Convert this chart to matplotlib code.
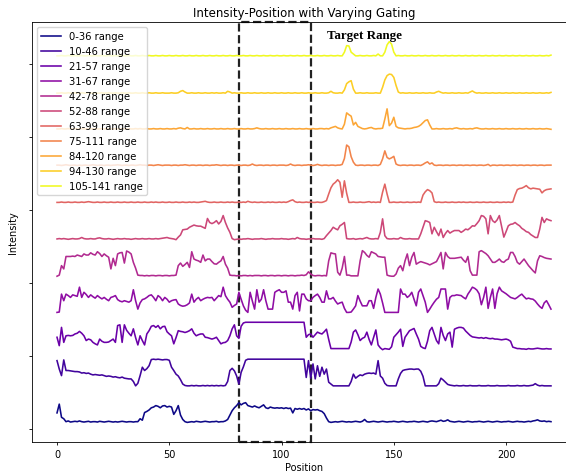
import numpy as np
import matplotlib.pyplot as plt

positions = np.arange(221)

labels = ['0-36 range', '10-46 range', '21-57 range', '31-67 range', '42-78 range',
          '52-88 range', '63-99 range', '75-111 range', '84-120 range',
          '94-130 range', '105-141 range']

# intensity of each trace (x100), before stacking
range_0_36 = [
    44, 68, 32, 28, 20, 22, 19, 20, 21, 20,
    22, 20, 19, 20, 21, 19, 20, 20, 19, 21,
    20, 19, 20, 21, 20, 19, 20, 19, 20, 21,
    20, 19, 20, 20, 19, 20, 20, 28, 24, 45,
    48, 52, 58, 60, 64, 62, 58, 63, 64, 60,
    62, 60, 40, 50, 64, 38, 26, 20, 18, 19,
    20, 19, 21, 20, 19, 20, 21, 20, 19, 20,
    20, 21, 19, 20, 20, 22, 26, 38, 50, 58,
    64, 72, 66, 70, 72, 64, 62, 60, 63, 60,
    58, 62, 66, 58, 56, 60, 58, 57, 58, 57,
    58, 56, 58, 56, 57, 44, 56, 54, 56, 54,
    56, 52, 55, 50, 53, 52, 53, 50, 48, 42,
    30, 20, 18, 19, 20, 19, 20, 21, 20, 19,
    20, 19, 20, 21, 20, 19, 21, 26, 20, 19,
    20, 21, 20, 19, 20, 21, 20, 19, 20, 20,
    21, 20, 19, 20, 21, 20, 19, 20, 20, 21,
    20, 19, 20, 21, 20, 19, 21, 22, 21, 20,
    22, 24, 21, 22, 25, 21, 20, 19, 20, 21,
    20, 19, 20, 21, 20, 19, 20, 20, 21, 20,
    19, 20, 21, 20, 19, 20, 21, 20, 19, 20,
    20, 21, 20, 19, 20, 21, 20, 20, 19, 20,
    21, 20, 22, 23, 25, 22, 21, 22, 20, 21,
    20]

range_10_46 = [
    87, 64, 46, 89, 60, 60, 59, 58, 57, 57,
    56, 53, 54, 52, 53, 50, 48, 49, 48, 47,
    48, 46, 44, 45, 44, 42, 43, 41, 40, 42,
    39, 38, 37, 37, 30, 18, 25, 46, 69, 60,
    65, 73, 90, 91, 90, 91, 90, 89, 90, 90,
    88, 69, 60, 50, 45, 35, 23, 19, 18, 18,
    19, 18, 19, 18, 18, 19, 18, 19, 18, 19,
    18, 19, 18, 19, 18, 19, 30, 60, 66, 59,
    45, 23, 55, 70, 88, 91, 91, 91, 91, 91,
    91, 91, 91, 91, 91, 91, 91, 91, 91, 91,
    91, 91, 91, 91, 91, 91, 91, 91, 91, 91,
    91, 41, 87, 39, 78, 37, 73, 44, 69, 50,
    64, 28, 23, 18, 18, 18, 18, 18, 18, 18,
    18, 30, 50, 39, 44, 48, 46, 50, 52, 53,
    52, 53, 50, 87, 45, 39, 25, 19, 18, 18,
    18, 18, 37, 52, 60, 62, 63, 64, 64, 63,
    64, 64, 58, 44, 18, 18, 18, 18, 18, 18,
    24, 39, 34, 28, 22, 20, 19, 18, 19, 18,
    18, 19, 18, 18, 19, 18, 18, 18, 19, 18,
    18, 18, 19, 18, 18, 18, 19, 18, 18, 18,
    18, 19, 18, 18, 18, 19, 18, 18, 19, 18,
    18, 19, 20, 24, 20, 18, 19, 18, 18, 18,
    18]

range_21_57 = [
    51, 28, 78, 37, 55, 56, 55, 56, 60, 62,
    67, 62, 55, 42, 46, 44, 37, 33, 30, 46,
    40, 37, 37, 38, 42, 46, 37, 83, 85, 37,
    85, 70, 62, 55, 74, 50, 30, 55, 42, 30,
    60, 69, 81, 83, 78, 83, 74, 80, 81, 66,
    60, 55, 33, 50, 69, 67, 66, 64, 66, 69,
    74, 62, 55, 58, 60, 60, 51, 50, 48, 46,
    48, 51, 42, 33, 36, 37, 42, 55, 74, 85,
    55, 48, 81, 90, 92, 92, 92, 92, 92, 92,
    92, 92, 92, 92, 92, 92, 92, 92, 92, 92,
    92, 92, 92, 92, 92, 92, 92, 92, 92, 92,
    92, 51, 58, 60, 51, 58, 65, 62, 60, 66,
    73, 45, 20, 20, 20, 20, 20, 20, 20, 20,
    20, 38, 65, 71, 58, 42, 48, 51, 65, 45,
    30, 51, 71, 30, 22, 17, 20, 19, 18, 25,
    51, 58, 65, 73, 26, 51, 60, 69, 72, 75,
    60, 46, 26, 22, 20, 40, 69, 78, 60, 42,
    33, 78, 56, 42, 60, 65, 24, 73, 76, 78,
    78, 76, 68, 62, 56, 52, 51, 50, 49, 50,
    48, 50, 48, 47, 48, 46, 46, 45, 44, 45,
    46, 44, 40, 24, 22, 20, 20, 19, 19, 18,
    20, 19, 19, 20, 21, 20, 19, 19, 20, 19,
    19]

range_31_67 = [
    19, 20, 69, 51, 69, 65, 60, 67, 65, 63,
    88, 60, 74, 68, 60, 67, 62, 58, 65, 60,
    56, 60, 55, 51, 60, 62, 65, 54, 50, 48,
    51, 49, 47, 51, 81, 51, 28, 45, 54, 56,
    60, 65, 67, 60, 51, 65, 60, 51, 60, 55,
    47, 51, 53, 54, 42, 38, 36, 37, 40, 45,
    69, 47, 55, 60, 51, 55, 58, 60, 59, 60,
    51, 58, 65, 62, 88, 65, 55, 47, 33, 38,
    42, 74, 55, 37, 25, 19, 74, 50, 28, 81,
    47, 55, 81, 51, 28, 28, 28, 74, 78, 81,
    74, 74, 78, 47, 47, 28, 65, 74, 23, 69,
    69, 56, 51, 51, 60, 65, 69, 60, 47, 47,
    78, 56, 56, 60, 50, 42, 45, 47, 30, 19,
    19, 20, 28, 37, 65, 50, 37, 37, 37, 51,
    51, 30, 60, 83, 69, 45, 19, 19, 19, 19,
    19, 19, 19, 83, 69, 69, 60, 65, 74, 55,
    37, 74, 83, 65, 47, 19, 28, 38, 47, 55,
    60, 83, 83, 83, 28, 60, 65, 65, 67, 66,
    65, 60, 56, 69, 78, 88, 85, 80, 70, 40,
    60, 88, 30, 60, 83, 30, 70, 88, 78, 74,
    70, 65, 60, 58, 56, 60, 65, 69, 62, 56,
    58, 56, 55, 50, 42, 35, 30, 45, 51, 40,
    28]

range_42_78 = [
    18, 21, 47, 38, 72, 72, 72, 73, 72, 76,
    74, 72, 79, 76, 76, 82, 78, 76, 85, 80,
    72, 79, 74, 70, 38, 67, 47, 79, 82, 83,
    54, 87, 84, 79, 56, 40, 21, 20, 20, 19,
    20, 19, 20, 20, 19, 20, 20, 19, 20, 20,
    19, 20, 20, 21, 47, 54, 45, 50, 56, 42,
    85, 65, 62, 60, 56, 76, 60, 65, 65, 58,
    52, 51, 56, 60, 72, 51, 40, 21, 20, 20,
    19, 20, 19, 20, 20, 19, 20, 19, 20, 20,
    20, 19, 20, 20, 19, 20, 20, 19, 20, 20,
    19, 20, 20, 19, 20, 20, 19, 20, 20, 21,
    20, 22, 30, 24, 20, 19, 20, 20, 19, 20,
    19, 60, 82, 80, 79, 29, 21, 40, 72, 21,
    21, 19, 19, 19, 19, 60, 88, 83, 75, 70,
    85, 82, 79, 72, 71, 70, 70, 21, 19, 18,
    18, 24, 40, 47, 33, 60, 79, 47, 70, 83,
    51, 55, 58, 56, 54, 52, 49, 52, 55, 58,
    70, 83, 38, 83, 72, 67, 67, 67, 68, 69,
    70, 62, 56, 72, 33, 21, 21, 21, 85, 88,
    84, 80, 74, 65, 56, 56, 60, 65, 58, 56,
    62, 65, 83, 83, 72, 56, 51, 58, 65, 56,
    47, 40, 33, 27, 60, 74, 72, 69, 67, 66,
    65]

range_52_88 = [
    20, 21, 20, 21, 20, 19, 20, 21, 20, 20,
    21, 24, 21, 20, 20, 21, 20, 20, 22, 23,
    21, 20, 20, 21, 20, 19, 20, 21, 20, 20,
    21, 20, 20, 19, 20, 21, 20, 20, 21, 20,
    20, 21, 20, 20, 21, 20, 21, 22, 23, 24,
    22, 21, 20, 18, 25, 31, 45, 46, 47, 52,
    55, 58, 56, 55, 55, 52, 49, 76, 65, 62,
    65, 70, 61, 68, 84, 65, 50, 38, 21, 18,
    19, 20, 19, 20, 20, 21, 20, 19, 20, 20,
    20, 21, 20, 19, 20, 20, 21, 20, 20, 20,
    21, 20, 20, 19, 20, 21, 20, 24, 21, 20,
    20, 19, 20, 20, 21, 20, 20, 20, 19, 21,
    29, 36, 43, 52, 48, 45, 56, 60, 65, 21,
    20, 20, 21, 19, 20, 21, 20, 22, 24, 21,
    20, 20, 21, 20, 38, 75, 29, 21, 20, 20,
    21, 20, 20, 24, 21, 20, 20, 21, 20, 20,
    20, 20, 34, 52, 70, 68, 65, 34, 52, 40,
    29, 47, 24, 35, 43, 36, 40, 43, 43, 43,
    38, 42, 47, 45, 50, 56, 55, 62, 70, 84,
    82, 75, 34, 84, 70, 65, 72, 84, 55, 25,
    40, 56, 60, 61, 65, 60, 56, 49, 45, 40,
    38, 32, 28, 24, 24, 47, 79, 65, 75, 72,
    70]

range_63_99 = [
    20, 20, 21, 20, 20, 21, 20, 20, 21, 20,
    20, 21, 20, 21, 22, 21, 20, 20, 21, 20,
    20, 21, 20, 20, 21, 20, 20, 21, 20, 20,
    21, 20, 20, 21, 20, 20, 21, 20, 20, 21,
    20, 20, 21, 20, 21, 20, 20, 21, 20, 20,
    21, 20, 20, 21, 20, 20, 21, 20, 20, 21,
    20, 21, 20, 20, 21, 22, 23, 21, 20, 20,
    21, 20, 20, 21, 20, 20, 21, 20, 21, 20,
    20, 21, 20, 21, 20, 23, 21, 20, 21, 20,
    20, 21, 20, 20, 21, 20, 21, 20, 20, 21,
    20, 21, 20, 22, 25, 27, 22, 20, 21, 20,
    20, 21, 20, 21, 20, 20, 21, 20, 20, 22,
    25, 43, 60, 70, 75, 82, 75, 34, 79, 45,
    20, 20, 21, 20, 20, 21, 20, 20, 21, 22,
    20, 21, 20, 21, 20, 48, 70, 43, 20, 20,
    21, 20, 20, 21, 20, 20, 21, 20, 20, 21,
    20, 21, 20, 40, 49, 55, 52, 46, 22, 20,
    21, 20, 20, 21, 20, 20, 21, 20, 20, 21,
    20, 21, 20, 20, 21, 20, 20, 21, 20, 20,
    21, 20, 20, 21, 20, 20, 21, 20, 20, 21,
    20, 21, 20, 21, 40, 55, 58, 59, 62, 66,
    60, 57, 59, 58, 57, 56, 46, 52, 55, 56,
    57]

range_75_111 = [
    22, 22, 21, 22, 23, 22, 21, 22, 22, 21,
    22, 21, 22, 22, 21, 22, 23, 22, 21, 22,
    22, 21, 22, 22, 21, 22, 22, 23, 22, 21,
    22, 22, 21, 22, 22, 21, 22, 23, 22, 22,
    21, 22, 22, 21, 22, 23, 22, 21, 22, 22,
    22, 21, 22, 22, 21, 22, 22, 23, 22, 21,
    22, 22, 21, 22, 22, 21, 22, 22, 21, 22,
    22, 23, 22, 21, 22, 22, 21, 22, 22, 21,
    22, 22, 21, 22, 22, 21, 22, 25, 22, 21,
    22, 22, 21, 22, 22, 21, 22, 22, 21, 22,
    22, 22, 21, 22, 25, 22, 21, 22, 22, 21,
    22, 22, 23, 22, 21, 22, 24, 22, 21, 22,
    22, 21, 22, 22, 21, 22, 22, 24, 40, 77,
    72, 45, 30, 22, 21, 22, 22, 21, 22, 22,
    21, 22, 22, 21, 24, 39, 61, 43, 39, 42,
    46, 25, 22, 21, 22, 22, 21, 22, 22, 21,
    22, 22, 21, 24, 28, 31, 25, 28, 22, 21,
    22, 22, 21, 22, 22, 21, 22, 22, 21, 22,
    22, 21, 22, 22, 21, 22, 22, 21, 22, 22,
    21, 22, 24, 20, 22, 22, 21, 22, 22, 21,
    22, 22, 21, 22, 22, 21, 22, 22, 21, 22,
    22, 21, 22, 22, 21, 22, 22, 21, 22, 22,
    22]

range_84_120 = [
    21, 21, 22, 21, 21, 22, 21, 21, 22, 21,
    21, 22, 21, 21, 22, 21, 21, 22, 21, 21,
    22, 21, 21, 22, 21, 21, 22, 21, 21, 22,
    21, 21, 22, 21, 21, 22, 21, 22, 21, 21,
    22, 21, 21, 22, 21, 21, 22, 21, 21, 22,
    21, 21, 22, 21, 23, 24, 22, 21, 25, 21,
    21, 22, 21, 21, 22, 21, 21, 22, 21, 21,
    22, 21, 21, 22, 21, 21, 22, 21, 21, 22,
    21, 21, 22, 21, 21, 22, 21, 21, 22, 24,
    22, 21, 21, 22, 21, 21, 22, 21, 21, 22,
    21, 21, 22, 21, 21, 22, 21, 21, 22, 21,
    21, 22, 21, 21, 22, 21, 21, 22, 22, 21,
    22, 21, 24, 26, 28, 24, 22, 21, 34, 65,
    60, 56, 32, 39, 28, 25, 22, 21, 22, 24,
    25, 22, 21, 22, 22, 23, 48, 76, 30, 37,
    53, 28, 24, 23, 22, 21, 22, 22, 23, 25,
    26, 28, 32, 38, 44, 46, 32, 21, 21, 22,
    21, 21, 22, 21, 21, 22, 21, 23, 24, 22,
    21, 22, 21, 21, 22, 21, 23, 24, 22, 21,
    21, 22, 21, 21, 22, 21, 21, 22, 21, 21,
    22, 21, 21, 22, 21, 21, 22, 21, 21, 22,
    21, 21, 22, 21, 21, 22, 21, 21, 22, 21,
    20]

range_94_130 = [
    19, 19, 20, 19, 19, 20, 19, 19, 20, 19,
    19, 20, 19, 19, 20, 19, 19, 20, 19, 19,
    20, 19, 19, 20, 19, 19, 20, 19, 19, 20,
    19, 19, 20, 19, 19, 20, 19, 19, 20, 19,
    19, 20, 19, 19, 20, 19, 19, 20, 19, 19,
    19, 20, 19, 19, 20, 24, 26, 22, 19, 19,
    20, 19, 19, 20, 19, 19, 20, 19, 19, 20,
    19, 20, 19, 19, 20, 19, 24, 22, 19, 20,
    19, 19, 20, 19, 19, 20, 19, 19, 20, 19,
    19, 20, 19, 19, 20, 19, 19, 20, 19, 19,
    20, 19, 19, 20, 19, 19, 20, 19, 19, 20,
    19, 19, 20, 19, 19, 20, 19, 19, 20, 19,
    19, 20, 24, 20, 19, 19, 20, 19, 28, 45,
    50, 53, 30, 19, 19, 20, 19, 19, 20, 19,
    19, 19, 20, 19, 19, 35, 55, 67, 71, 70,
    62, 40, 22, 19, 20, 19, 19, 20, 19, 19,
    20, 19, 19, 20, 19, 19, 20, 19, 19, 22,
    24, 21, 19, 20, 19, 19, 20, 19, 19, 20,
    19, 19, 20, 19, 22, 25, 21, 19, 20, 19,
    19, 20, 19, 19, 20, 19, 19, 20, 19, 19,
    20, 19, 19, 20, 19, 19, 20, 19, 19, 20,
    19, 19, 20, 19, 19, 20, 19, 19, 20, 19,
    21]

range_105_141 = [
    21, 21, 22, 21, 21, 22, 21, 21, 22, 21,
    21, 22, 21, 21, 22, 21, 21, 22, 21, 21,
    22, 21, 21, 22, 21, 21, 22, 21, 21, 22,
    21, 21, 22, 21, 21, 22, 21, 21, 22, 21,
    21, 22, 21, 21, 22, 21, 21, 22, 21, 21,
    22, 21, 21, 22, 21, 21, 22, 21, 21, 22,
    21, 21, 22, 21, 21, 22, 21, 21, 22, 21,
    21, 22, 21, 21, 22, 21, 21, 22, 21, 21,
    22, 21, 21, 22, 21, 21, 22, 21, 21, 22,
    21, 21, 22, 21, 21, 22, 21, 21, 22, 21,
    21, 22, 21, 21, 22, 21, 21, 22, 21, 21,
    22, 21, 21, 22, 21, 21, 22, 21, 21, 22,
    21, 21, 22, 21, 21, 22, 21, 21, 31, 49,
    48, 31, 26, 21, 21, 22, 21, 21, 22, 21,
    21, 22, 21, 26, 21, 21, 31, 51, 60, 53,
    31, 21, 22, 21, 21, 22, 21, 21, 22, 21,
    21, 22, 21, 21, 22, 21, 21, 22, 21, 21,
    22, 21, 21, 22, 21, 21, 22, 21, 21, 22,
    21, 21, 22, 21, 21, 22, 21, 21, 22, 21,
    21, 22, 21, 21, 22, 21, 21, 22, 21, 21,
    22, 21, 21, 22, 21, 21, 22, 21, 21, 22,
    21, 21, 22, 21, 21, 22, 21, 21, 22, 21,
    23]

series = [range_0_36, range_10_46, range_21_57, range_31_67, range_42_78,
          range_52_88, range_63_99, range_75_111, range_84_120,
          range_94_130, range_105_141]

target_start, target_end = 81, 113

fig = plt.figure(figsize=(5.66, 4.77), dpi=100)
ax = fig.add_axes([0.0571, 0.0713, 0.960, 0.880])

colors = plt.cm.plasma(np.linspace(0, 1, len(series)))
for i, (vals, lab) in enumerate(zip(series, labels)):
    ax.plot(positions, np.array(vals) / 100 + i, color=colors[i], lw=1.15, label=lab)

# dashed box marking the gated window
ax.axvspan(target_start, target_end, fill=False, ls='--', lw=1.6,
           ec='#222222', clip_on=False)
ax.text(120.3, 10.77, 'Target Range', family='Liberation Serif',
        fontweight='bold', fontsize=9.4, va='center')

ax.set_ylim(-0.356, 11.13)
ax.set_yticks([0, 2, 4, 6, 8, 10])
ax.set_yticklabels([])
ax.tick_params(length=2.5, width=0.6, labelsize=7, pad=2.5)
for s in ax.spines.values():
    s.set_linewidth(0.6)

ax.set_title('Intensity-Position with Varying Gating', fontsize=8.5, pad=4.5)
ax.set_xlabel('Position', fontsize=7, labelpad=2.5)
ax.set_ylabel('Intensity', fontsize=7, labelpad=5)
ax.legend(loc='upper left', fontsize=7.2, handlelength=2.0)

fig.savefig('out.png', dpi=100)
